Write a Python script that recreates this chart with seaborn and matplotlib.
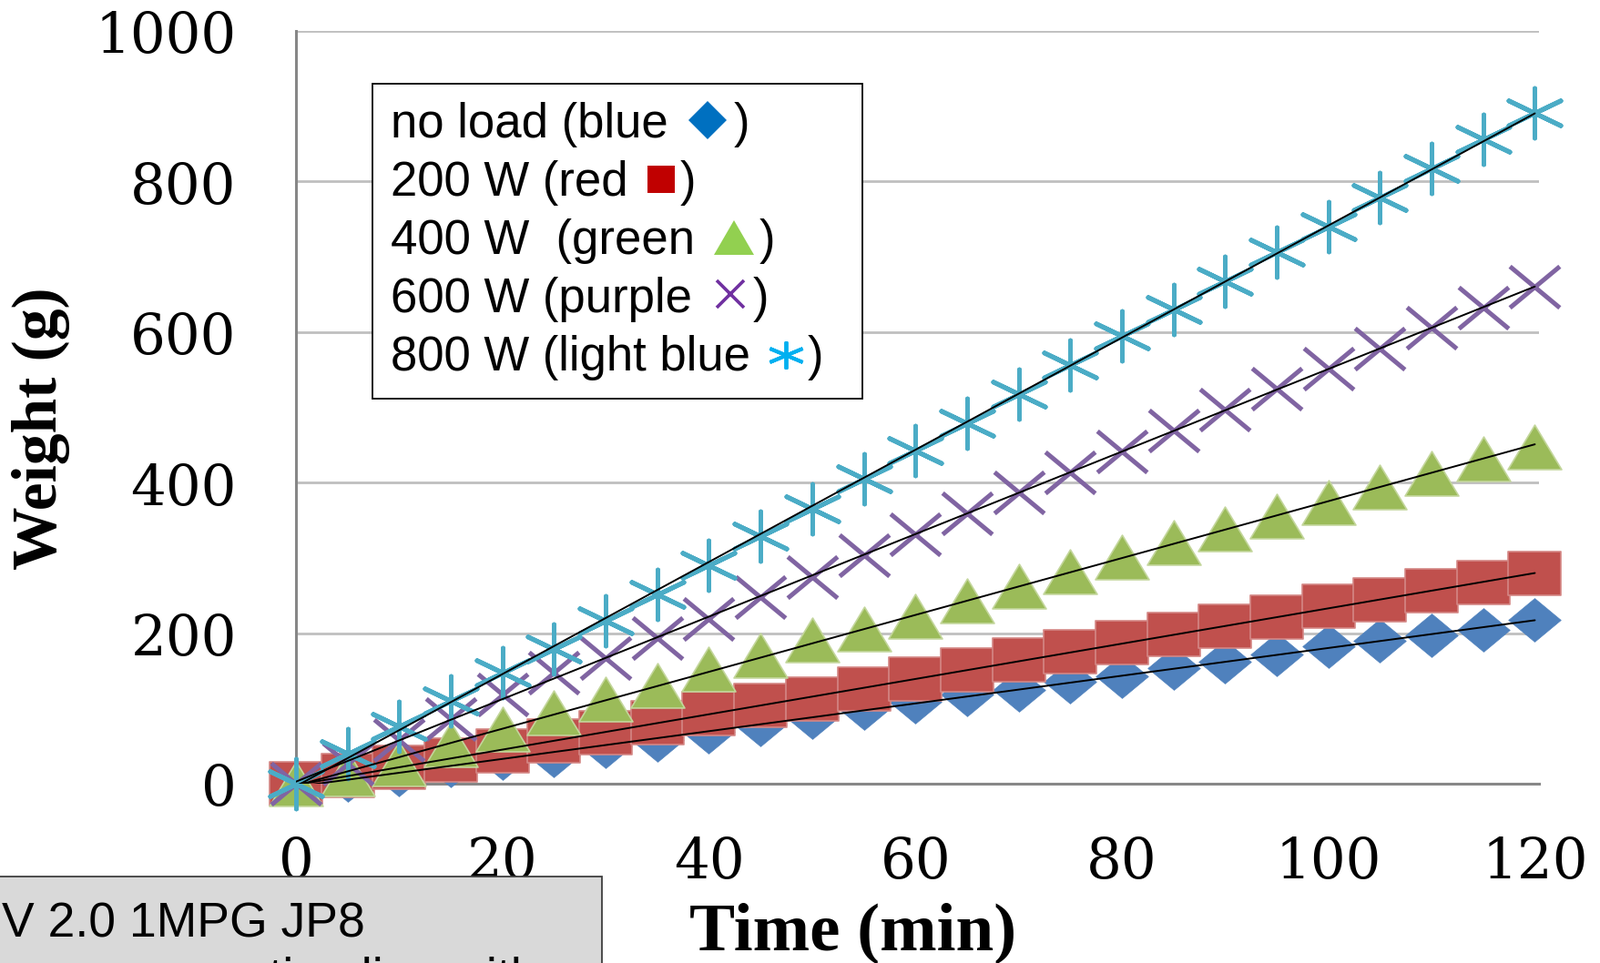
import numpy as np
import pandas as pd
import matplotlib
matplotlib.use("Agg")
import matplotlib.pyplot as plt
import seaborn as sns
from matplotlib.markers import MarkerStyle
from matplotlib.transforms import Affine2D
from matplotlib.offsetbox import TextArea, DrawingArea, HPacker, VPacker, AnchoredOffsetbox
from matplotlib.lines import Line2D
from matplotlib.patches import Rectangle

# ---------------- data ----------------
time_min = [0, 5, 10, 15, 20, 25, 30, 35, 40, 45, 50, 55, 60,
            65, 70, 75, 80, 85, 90, 95, 100, 105, 110, 115, 120]
no_load = [0, 5, 12, 24, 34, 38, 50, 58, 69, 79, 88, 100, 109,
           118, 125, 135, 143, 153, 162, 172, 182, 190, 197, 204, 218]
w200 = [0, 11, 22, 32, 44, 57, 68, 81, 93, 104, 113, 126, 139,
        151, 164, 175, 188, 198, 209, 221, 236, 244, 256, 267, 279]
w400 = [0, 13, 27, 52, 72, 94, 112, 131, 152, 171, 191, 205, 223,
        243, 262, 282, 301, 320, 339, 355, 374, 394, 412, 432, 447]
w600 = [0, 27, 58, 86, 118, 147, 167, 193, 219, 248, 274, 303, 331,
        359, 387, 413, 441, 469, 497, 525, 551, 578, 606, 633, 660]
w800 = [0, 40, 76, 110, 147, 179, 217, 252, 290, 329, 365, 405, 443,
        479, 518, 556, 595, 630, 668, 706, 740, 779, 818, 856, 891]

series_names = ["no load", "200 W", "400 W", "600 W", "800 W"]
legend_texts = ["no load (blue", "200 W (red", "400 W  (green",
                "600 W (purple", "800 W (light blue"]
x_ticks = [0, 20, 40, 60, 80, 100, 120]
y_ticks = [0, 200, 400, 600, 800, 1000]
x_label = "Time (min)"
y_label = "Weight (g)"
note_line1 = "V 2.0 1MPG JP8"
note_line2 = "consumption line with"

series_values = [no_load, w200, w400, w600, w800]
df = pd.DataFrame({"time": time_min * 5,
                   "weight": sum(series_values, []),
                   "series": np.repeat(series_names, len(time_min))})

# ---------------- style ----------------
sns.set_style("white")
plt.rcParams["font.family"] = ["DejaVu Serif"]
plt.rcParams["text.color"] = "black"
plt.rcParams["xtick.color"] = "black"
plt.rcParams["ytick.color"] = "black"
plt.rcParams["axes.labelcolor"] = "black"

W, H = 1757, 1058
fig = plt.figure(figsize=(W / 100, H / 100), dpi=100)
ax = fig.add_axes([325 / W, 1 - 861 / H, (1690 - 325) / W, (861 - 34) / H])

sq = Affine2D().scale(1.0, 0.83)
mk_diamond = MarkerStyle("D", transform=sq)
mk_square = MarkerStyle("s", transform=sq)
mk_tri = MarkerStyle("^", transform=sq)
mk_x = MarkerStyle("x", transform=sq)
mk_ast = MarkerStyle((6, 2, 0), transform=sq)

plot_styles = {
    "no load": dict(marker=mk_diamond, s=860, color="#4F81BD", edgecolor="#4F81BD", linewidth=0.5, zorder=3),
    "200 W": dict(marker=mk_square, s=1720, color="#C0504D", edgecolor="#D48785", linewidth=1.2, zorder=4),
    "400 W": dict(marker=mk_tri, s=1800, color="#9BBB59", edgecolor="#C3D69B", linewidth=1.2, zorder=5),
    "600 W": dict(marker=mk_x, s=1550, color="#8064A2", linewidth=3.6, zorder=6),
    "800 W": dict(marker=mk_ast, s=2250, color="#4BACC6", linewidth=3.6, zorder=7),
}

for name in series_names:
    sub = df[df["series"] == name]
    sns.scatterplot(data=sub, x="time", y="weight", ax=ax, legend=False,
                    clip_on=False, **plot_styles[name])

for name in series_names:
    sub = df[df["series"] == name]
    sns.regplot(data=sub, x="time", y="weight", ax=ax, scatter=False, ci=None,
                truncate=True, color="black",
                line_kws=dict(linewidth=1.4, zorder=8))

ax.set_xlim(0, 120.4)
ax.set_ylim(0, 1000)
ax.set_xticks(x_ticks)
ax.set_yticks(y_ticks)
ax.set_xticklabels([str(t) for t in x_ticks])
ax.set_yticklabels([str(t) for t in y_ticks])
ax.tick_params(axis="x", length=0, pad=40, labelsize=44, labelcolor="black")
ax.tick_params(axis="y", length=0, pad=47, labelsize=44, labelcolor="black")
ax.yaxis.grid(True, color="#BFBFBF", linewidth=2.0)
ax.xaxis.grid(False)
ax.set_axisbelow(True)
for side in ["top", "right"]:
    ax.spines[side].set_visible(False)
for side in ["left", "bottom"]:
    ax.spines[side].set_color("#878787")
    ax.spines[side].set_linewidth(2.2)

label_font = dict(family=["Liberation Serif", "DejaVu Serif"], weight="bold", color="black")
ax.set_xlabel(x_label, fontsize=54, va="center", ha="center", **label_font)
ax.xaxis.set_label_coords((937 - 325) / 1365, (861 - 1025) / 827)
ax.set_ylabel(y_label, fontsize=50, va="center", ha="center", **label_font)
ax.yaxis.set_label_coords((45 - 325) / 1365, (861 - 471) / 827)

# ---------------- legend box ----------------
leg_font = dict(family=["Liberation Sans", "DejaVu Sans"], size=38, color="black")
legend_glyphs = [
    dict(gap=16, w=30, after=6, y=13.5, marker="D", ms=21.2, color="#0070C0", mew=0, tr=None),
    dict(gap=15, w=22, after=4, y=13.0, marker="s", ms=22, color="#C00000", mew=0, tr=None),
    dict(gap=15, w=32, after=4, y=13.0, marker="^", ms=32, color="#92D050", mew=0, tr=Affine2D().scale(1.0, 0.85)),
    dict(gap=19, w=22, after=7, y=14.0, marker="x", ms=22, color="#7030A0", mew=2.6, tr=None),
    dict(gap=15, w=26, after=4, y=12.0, marker=(6, 2, 0), ms=30, color="#00B0F0", mew=2.8, tr=Affine2D().scale(1.0, 0.72)),
]
rows = []
for txt, g in zip(legend_texts, legend_glyphs):
    t1 = TextArea(txt, textprops=leg_font)
    da = DrawingArea(g["gap"] + g["w"] + g["after"], 28, 0, 0)
    m = MarkerStyle(g["marker"], transform=g["tr"]) if g["tr"] is not None else g["marker"]
    da.add_artist(Line2D([g["gap"] + g["w"] / 2], [g["y"]], linestyle="none",
                         marker=m, markersize=g["ms"], color=g["color"],
                         markeredgewidth=g["mew"], markeredgecolor=g["color"]))
    t2 = TextArea(")", textprops=leg_font)
    rows.append(HPacker(children=[t1, da, t2], align="baseline", pad=0, sep=0))
vbox = VPacker(children=rows, align="left", pad=0, sep=10, width=498)
anch = AnchoredOffsetbox(loc="upper left", child=vbox, pad=0.38, borderpad=0,
                         frameon=True, bbox_to_anchor=(409 / W, 1 - 92 / H),
                         bbox_transform=fig.transFigure, prop=dict(size=38))
anch.patch.set_boxstyle("square", pad=0)
anch.patch.set_edgecolor("black")
anch.patch.set_linewidth(1.3)
anch.patch.set_facecolor("white")
anch.set_zorder(20)
ax.add_artist(anch)

# ---------------- bottom-left note box ----------------
fig.add_artist(Rectangle((-0.01, -0.05), (661 / W) + 0.01, (1058 - 963) / H + 0.05,
                         transform=fig.transFigure, facecolor="#D9D9D9",
                         edgecolor="#3F3F3F", linewidth=1.3, zorder=30))
note_font = dict(family=["Liberation Sans Narrow", "Liberation Sans", "DejaVu Sans"],
                 size=38.5, color="black")
fig.text(2 / W, 1 - 1029 / H, note_line1, va="baseline", ha="left", zorder=31, **note_font)
fig.text(78 / W, 1 - 1090 / H, note_line2, va="baseline", ha="left", zorder=31, **note_font)

fig.savefig("out.png", dpi=100)
